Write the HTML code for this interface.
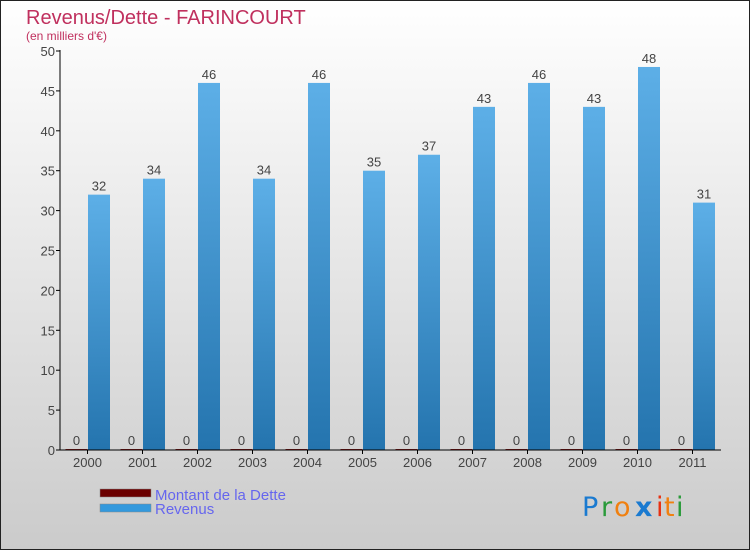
<!DOCTYPE html>
<html><head><meta charset="utf-8"><style>
html,body{margin:0;padding:0}
body{width:750px;height:550px;overflow:hidden;font-family:"Liberation Sans",sans-serif}
</style></head><body>
<svg width="750" height="550" xmlns="http://www.w3.org/2000/svg">
<defs>
<linearGradient id="bg" x1="0" y1="0" x2="0" y2="1"><stop offset="0" stop-color="#ffffff"/><stop offset="1" stop-color="#cbcbcb"/></linearGradient>
<linearGradient id="bar" x1="0" y1="0" x2="0" y2="1"><stop offset="0" stop-color="#5dafe7"/><stop offset="1" stop-color="#2474ae"/></linearGradient>
</defs>
<rect x="0.5" y="0.5" width="749" height="549" fill="url(#bg)" stroke="#222"/>
<text x="26" y="24" font-size="20" fill="#c0305e">Revenus/Dette - FARINCOURT</text>
<text x="26" y="40" font-size="12" fill="#c0305e">(en milliers d'€)</text>
<g id="plot"></g>
<rect x="100" y="489" width="51" height="8" fill="#6b0000" stroke="#888" stroke-width="0.5"/>
<rect x="100" y="504" width="51" height="8" fill="#3399dd" stroke="#888" stroke-width="0.5"/>
<text x="155" y="500" font-size="15" fill="#6666ee">Montant de la Dette</text>
<text x="155" y="514" font-size="15" fill="#6666ee">Revenus</text>
<g font-size="27" font-family="'DejaVu Sans',sans-serif">
<text x="582" y="516" fill="#1a7ad0">P</text><text x="601" y="516" fill="#2a9a3a">r</text><text x="614" y="516" fill="#f08010">o</text><text x="635" y="516" fill="#1a7ad0" font-weight="bold">x</text><text x="656" y="516" fill="#e83010">i</text><text x="664" y="516" fill="#f08010">t</text><text x="676" y="516" fill="#2a9a3a">i</text>
</g>
</svg>
<script>
const years=["2000","2001","2002","2003","2004","2005","2006","2007","2008","2009","2010","2011"];
const revenus=[32,34,46,34,46,35,37,43,46,43,48,31];
const dette=[0,0,0,0,0,0,0,0,0,0,0,0];
const yTicks=[0,5,10,15,20,25,30,35,40,45,50];
const NS="http://www.w3.org/2000/svg";
const g=document.getElementById('plot');
const y=v=>450-v*7.98;
const x=i=>87.5+i*55;
function mk(t,a){const e=document.createElementNS(NS,t);for(const k in a)e.setAttribute(k,a[k]);g.appendChild(e);return e;}
yTicks.forEach(v=>{
 const l=mk('line',{x1:56,x2:60,y1:y(v),y2:y(v),stroke:'#000'});
 
 
 const t=mk('text',{x:55,y:y(v)+5,'text-anchor':'end','font-size':13,fill:'#444'});
 t.textContent=v;
 
 
});
years.forEach((yr,i)=>{
 const cx=x(i);
 const d=mk('rect',{x:cx-22,y:y(dette[i])-1,width:22,height:1+dette[i]*7.98,fill:'#8b1a1a'});
 
 
 const dl=mk('text',{x:cx-11,y:y(dette[i])-5,'text-anchor':'middle','font-size':13,fill:'#444'});
 dl.textContent=dette[i];
 
 
 const b=mk('rect',{x:cx+0.5,y:y(revenus[i]),width:22,height:revenus[i]*7.98,fill:'url(#bar)'});
 
 
 const bl=mk('text',{x:cx+11.5,y:y(revenus[i])-4,'text-anchor':'middle','font-size':13,fill:'#444'});
 bl.textContent=revenus[i];
 
 
 const tk=mk('line',{x1:cx,x2:cx,y1:450,y2:454,stroke:'#000'});
 
 
 const xl=mk('text',{x:cx,y:467,'text-anchor':'middle','font-size':13,fill:'#444'});
 xl.textContent=yr;
 
 
});
const ya=mk('line',{x1:60,x2:60,y1:50,y2:450,stroke:'#000'});


const xa=mk('line',{x1:60,x2:721,y1:450,y2:450,stroke:'#000'});


</script>
</body></html>
